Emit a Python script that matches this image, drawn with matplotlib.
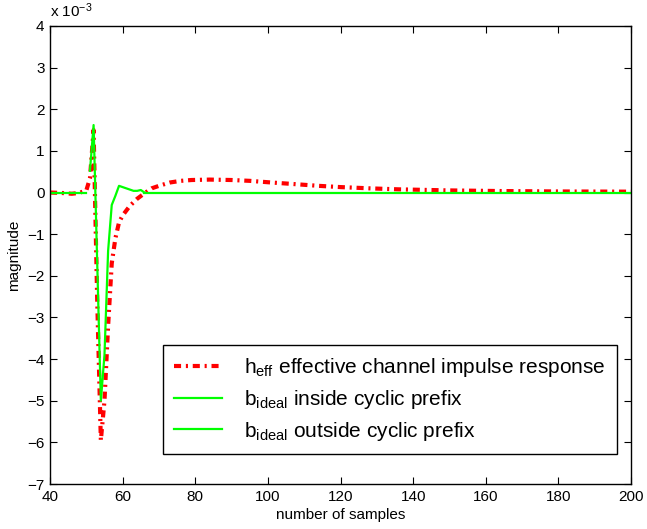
import numpy as np
import matplotlib
matplotlib.use("Agg")
import matplotlib.pyplot as plt

plt.rcParams['font.family'] = ['Liberation Sans', 'DejaVu Sans']
plt.rcParams['mathtext.fontset'] = 'custom'
plt.rcParams['mathtext.rm'] = 'Liberation Sans'
plt.rcParams['mathtext.it'] = 'Liberation Sans:italic'

# effective channel impulse response (units of 1e-3)
h_x = [40, 43, 46, 48, 50, 51, 52, 53, 54, 55, 56, 57, 58, 59, 60, 62, 64, 66,
       68, 70, 73, 76, 79, 84, 90, 95, 101, 106, 114, 120, 128, 136, 150, 164,
       180, 200]
h_y = [0.0, -0.01, -0.03, -0.01, 0.05, 0.34, 1.5, -2.6, -5.95, -5.0, -3.2,
       -1.7, -1.1, -0.72, -0.55, -0.32, -0.15, -0.02, 0.1, 0.16, 0.24, 0.28,
       0.30, 0.31, 0.30, 0.28, 0.24, 0.21, 0.16, 0.13, 0.10, 0.076, 0.05,
       0.035, 0.025, 0.02]

# ideal target, taps inside the cyclic prefix window
b_in_x = list(range(51, 67))
b_in_y = [0.52, 1.62, -1.7, -5.0, -3.9, -1.4, -0.3, -0.08, 0.16, 0.13, 0.10,
          0.07, 0.04, 0.04, 0.06, 0.0]

# ideal target, taps outside the window (zero)
b_out_x = [40, 50, np.nan, 66, 200]
b_out_y = [0.0, 0.0, np.nan, 0.0, 0.0]

fig = plt.figure(figsize=(6.47, 5.29), dpi=100)
ax = fig.add_axes([0.0773, 0.085, 0.898, 0.866])

ax.plot(h_x, h_y, color='red', lw=3, linestyle=(0, (1.7, 1.15, 0.5, 1.15)),
        label=r'h$_{\mathrm{eff}}$ effective channel impulse response')
ax.plot(b_in_x, b_in_y, color='#00ff00', lw=1.6,
        label=r'b$_{\mathrm{ideal}}$ inside cyclic prefix')
ax.plot(b_out_x, b_out_y, color='#00ff00', lw=1.6,
        label=r'b$_{\mathrm{ideal}}$ outside cyclic prefix')

ax.set_xlim(40, 200)
ax.set_ylim(-7, 4)
ax.set_xticks(np.arange(40, 201, 20))
ax.set_yticks(np.arange(-7, 5, 1))
ax.tick_params(direction='in', top=True, right=True, labelsize=11, length=5,
               pad=4)
for s in ax.spines.values():
    s.set_linewidth(1.0)

ax.set_xlabel('number of samples', fontsize=11, labelpad=3)
ax.set_ylabel('magnitude', fontsize=11, labelpad=4)
ax.text(0.0, 1.012, r'x 10$^{-3}$', transform=ax.transAxes, fontsize=11,
        ha='left', va='bottom')

leg = ax.legend(loc='lower right', bbox_to_anchor=(0.976, 0.0655),
                fontsize=15, frameon=True, fancybox=False, framealpha=1,
                edgecolor='black', handlelength=2.3, handletextpad=1.05,
                labelspacing=0.42, borderpad=0.55, borderaxespad=0)
leg.get_frame().set_linewidth(1.0)

fig.savefig('out.png', dpi=100)
